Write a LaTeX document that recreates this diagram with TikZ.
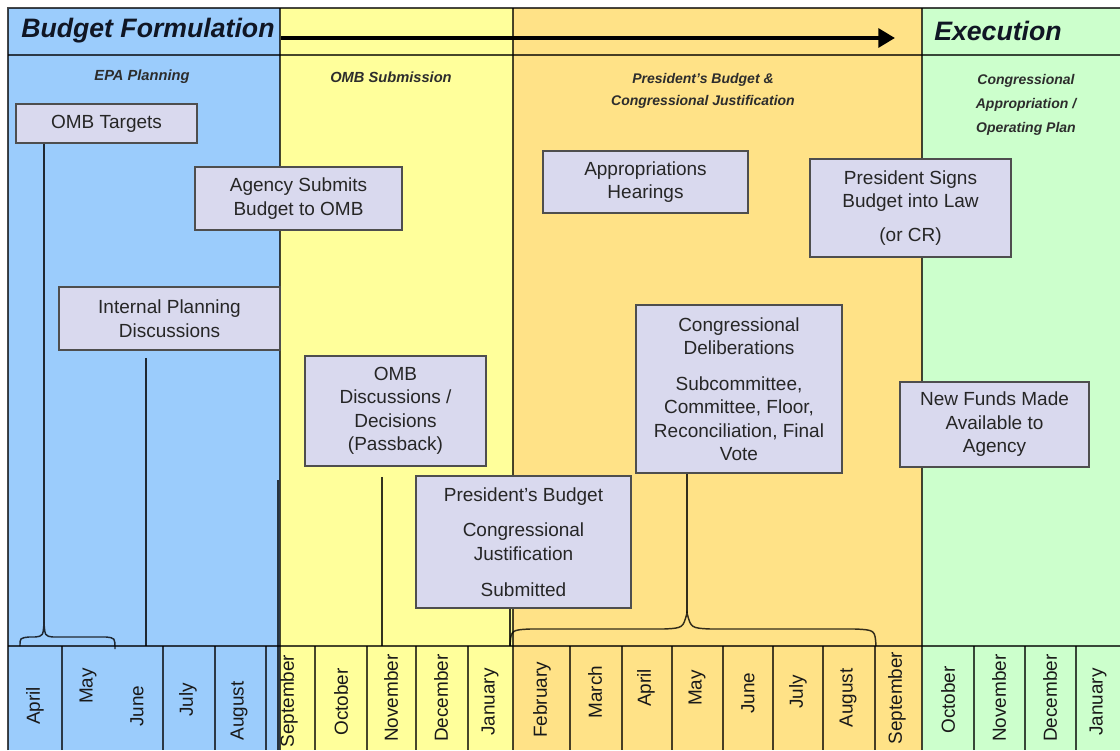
\documentclass[tikz,border=0pt]{standalone}
\usepackage{fontspec}
\setmainfont{Liberation Sans}
\usetikzlibrary{arrows.meta}

\definecolor{planblue}{RGB}{155,204,252}
\definecolor{ombyellow}{RGB}{255,255,155}
\definecolor{presorange}{RGB}{255,226,135}
\definecolor{execgreen}{RGB}{204,255,204}
\definecolor{boxfill}{RGB}{217,217,238}
\definecolor{boxline}{RGB}{78,78,78}
\definecolor{boxtext}{RGB}{38,38,38}
\definecolor{headtext}{RGB}{16,22,36}
\definecolor{phasetext}{RGB}{45,45,45}

\tikzset{
  stepbox/.style={draw=boxline, fill=boxfill, line width=1.3pt, align=center,
    text=boxtext, inner sep=0pt, font=\fontsize{14.25pt}{17.6pt}\selectfont},
  monthlabel/.style={rotate=90, text=black!90, inner sep=0pt,
    font=\fontsize{14.2pt}{16pt}\selectfont},
  phaselabel/.style={align=center, text=phasetext, inner sep=0pt,
    font=\fontsize{11pt}{17.5pt}\selectfont\bfseries\itshape},
  headlabel/.style={text=headtext, inner sep=0pt,
    font=\fontsize{20pt}{24pt}\selectfont\bfseries\itshape},
  gridline/.style={draw=black, draw opacity=.72, line width=0.8pt},
  connector/.style={draw=black, draw opacity=.8, line width=1.1pt},
}

\begin{document}
\begin{tikzpicture}[x=0.75pt, y=-0.75pt]
\useasboundingbox (0,0) rectangle (1120,750);
\fill[white] (0,0) rectangle (1120,750);

% phase columns
\fill[planblue]   (8,8)   rectangle (280,750);
\fill[ombyellow]  (280,8) rectangle (513,750);
\fill[presorange] (513,8) rectangle (922,750);
\fill[execgreen]  (922,8) rectangle (1120,750);

% frame, header rule and month row rule
\draw[gridline] (8,750) -- (8,8) -- (1120,8);
\draw[gridline] (8,55) -- (1120,55);
\draw[gridline] (8,646) -- (1120,646);
\foreach \x in {280,513,922} \draw[gridline] (\x,8) -- (\x,750);
\draw[draw=black, draw opacity=.75, line width=2pt] (278,480) -- (278,750);

% month dividers
\foreach \x in {62,163,215,266,315,367,416,468,570,622,672,723,773,823,875,974,1025,1076}
  \draw[gridline] (\x,646) -- (\x,750);

% header row
\node[headlabel, anchor=west] (formulation) at (21,31) {Budget Formulation};
\node[headlabel, anchor=west] (execution) at (934,31) {Execution};
\coordinate (arrowStart) at (281,38);
\coordinate (arrowEnd) at (895,38);
\draw[line width=3pt, -{Triangle[length=12.5pt, width=14pt]}] (arrowStart) -- (arrowEnd);

% phase titles
\node[phaselabel] (epa) at (142,77) {EPA Planning};
\node[phaselabel] (ombsub) at (391,77) {OMB Submission};
\node[phaselabel, font=\fontsize{10.5pt}{16.5pt}\selectfont\bfseries\itshape] (presphase) at (703,91) {President's Budget \&\\Congressional Justification};
\node[phaselabel, font=\fontsize{10.5pt}{18pt}\selectfont\bfseries\itshape] (approp) at (1026,105) {Congressional\\Appropriation /\\Operating Plan};

% process steps
\node[stepbox, minimum width=135.75pt, minimum height=29.25pt] (targets) at (106.5,123.5) {OMB Targets};
\node[stepbox, minimum width=155.25pt, minimum height=47.25pt] (agency) at (298.5,198.5) {Agency Submits\\Budget to OMB};
\node[stepbox, minimum width=165.75pt, minimum height=47.25pt] (internal) at (169.5,318.5) {Internal Planning\\Discussions};
\node[stepbox, minimum width=135.75pt, minimum height=82.5pt] (passback) at (395.5,411) {OMB\\Discussions /\\Decisions\\(Passback)};
\node[stepbox, minimum width=161.25pt, minimum height=99pt] (presbudget) at (523.5,542) {President's Budget\\[9pt]Congressional\\Justification\\[9.5pt]Submitted};
\node[stepbox, minimum width=153.75pt, minimum height=46.5pt] (hearings) at (645.5,182) {Appropriations\\Hearings};
\node[stepbox, minimum width=150.75pt, minimum height=73.5pt] (signs) at (910.5,208) {President Signs\\Budget into Law\\[8pt](or CR)};
\node[stepbox, minimum width=154.5pt, minimum height=126pt] (deliberations) at (739,389) {Congressional\\Deliberations\\[9pt]Subcommittee,\\Committee, Floor,\\Reconciliation, Final\\Vote};
\node[stepbox, minimum width=141.75pt, minimum height=63.75pt] (funds) at (994.5,424.5) {New Funds Made\\Available to\\Agency};

% braces grouping months
\coordinate (tipA) at (44,623);
\draw[connector] (20,646) .. controls (20,638) .. (29,637) -- (35,637)
  .. controls (43,636) .. (tipA) .. controls (45,636) .. (53,637) -- (106,637)
  .. controls (115,638) .. (115,649);
\coordinate (tipB) at (687,613);
\coordinate (braceB) at (510,646);
\draw[connector] (braceB) .. controls (511,630) .. (530,629) -- (664,629)
  .. controls (683,628) .. (tipB) .. controls (691,628) .. (710,629) -- (855,629)
  .. controls (875,630) .. (876,646);

% links from steps down to the calendar
\coordinate (internalEnd) at (146,646);
\coordinate (passbackEnd) at (382,646);
\draw[connector] (targets.south -| tipA) -- (tipA);
\draw[connector] ([yshift=-5.25pt]internal.south -| internalEnd) -- (internalEnd);
\draw[connector] ([yshift=-7.5pt]passback.south -| passbackEnd) -- (passbackEnd);
\draw[connector] (presbudget.south -| braceB) -- (braceB);
\draw[connector] (deliberations.south -| tipB) -- (tipB);

% months
\node[monthlabel] (m1)  at (35,706)   {April};
\node[monthlabel] (m2)  at (88,686)   {May};
\node[monthlabel] (m3)  at (137,706)  {June};
\node[monthlabel] (m4)  at (188,700)  {July};
\node[monthlabel] (m5)  at (239,711)  {August};
\node[monthlabel] (m6)  at (289,701)  {September};
\node[monthlabel] (m7)  at (341,702)  {October};
\node[monthlabel] (m8)  at (391,698)  {November};
\node[monthlabel] (m9)  at (441,698)  {December};
\node[monthlabel] (m10) at (490,702)  {January};
\node[monthlabel] (m11) at (542,700)  {February};
\node[monthlabel] (m12) at (595,692)  {March};
\node[monthlabel] (m13) at (646,688)  {April};
\node[monthlabel] (m14) at (697,688)  {May};
\node[monthlabel] (m15) at (748,693)  {June};
\node[monthlabel] (m16) at (798,692)  {July};
\node[monthlabel] (m17) at (848,698)  {August};
\node[monthlabel] (m18) at (897,698)  {September};
\node[monthlabel] (m19) at (948,700)  {October};
\node[monthlabel] (m20) at (999,698)  {November};
\node[monthlabel] (m21) at (1050,698) {December};
\node[monthlabel] (m22) at (1098,702) {January};
\end{tikzpicture}
\end{document}
